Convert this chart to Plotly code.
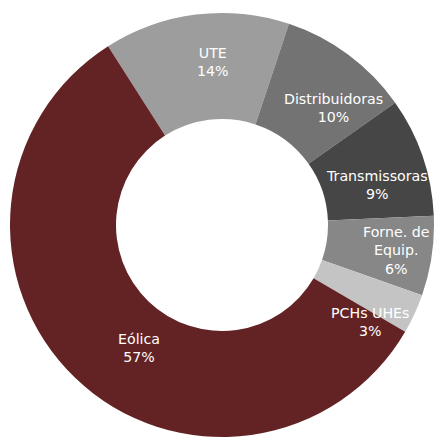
import math
import plotly.graph_objects as go

categories = ["UTE", "Distribuidoras", "Transmissoras", "Forne. de<br>Equip.", "PCHs UHEs", "Eólica"]
values = [14, 10, 9, 6, 3, 57]
colors = ["#9d9d9d", "#737373", "#464646", "#878787", "#c4c4c4", "#632324"]

# layout of the label boxes (angle shift from slice mid-angle in degrees, radius as fraction of outer radius)
label_angle_shift = [3.8, 6.9, 4.5, -0.2, 8.4, -9.9]
label_radius_frac = [0.77, 0.761, 0.757, 0.829, 0.835, 0.70]

W, H = 435, 439
dom_x = [10 / W, 434 / W]
dom_y = [1 / H, 427 / H]
rotation = -32.5

fig = go.Figure(go.Pie(
    labels=categories,
    values=values,
    hole=0.5,
    sort=False,
    direction="clockwise",
    rotation=rotation,
    marker=dict(colors=colors, line=dict(width=0)),
    textinfo="none",
    showlegend=False,
    hoverinfo="label+value",
    domain=dict(x=dom_x, y=dom_y),
))

# label placement derived from the slice angles
cx = (dom_x[0] + dom_x[1]) / 2 * W
cy = (dom_y[0] + dom_y[1]) / 2 * H
R = min((dom_x[1] - dom_x[0]) * W, (dom_y[1] - dom_y[0]) * H) / 2
total = sum(values)
cum = 0
for lab, v, dth, rf in zip(categories, values, label_angle_shift, label_radius_frac):
    mid = rotation + 360 * (cum + v / 2) / total + dth
    cum += v
    r = rf * R
    px = cx + r * math.sin(math.radians(mid))
    py = cy + r * math.cos(math.radians(mid))
    fig.add_annotation(
        x=px / W, y=py / H, xref="paper", yref="paper",
        text=f"{lab}<br>{v}%", showarrow=False,
        xanchor="center", yanchor="middle", borderpad=0,
        font=dict(family="DejaVu Sans", size=14.2, color="white"),
    )

fig.update_layout(
    width=W, height=H,
    margin=dict(l=0, r=0, t=0, b=0),
    paper_bgcolor="white",
    plot_bgcolor="white",
)

fig.write_html("out.html", config={"displayModeBar": False},
               post_script="document.body.style.margin='0';document.body.style.overflow='hidden';")
